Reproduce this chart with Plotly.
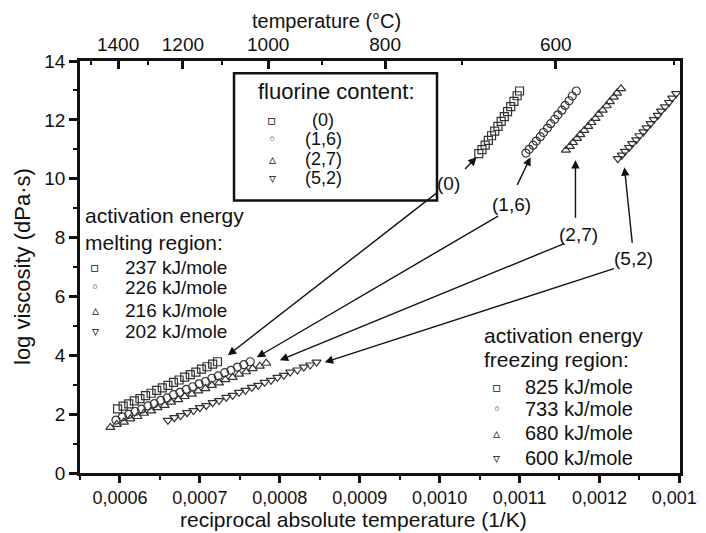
import plotly.graph_objects as go

# ---------------- data ----------------
series_labels = ["(0)", "(1,6)", "(2,7)", "(5,2)"]
series_symbols = ["square-open", "circle-open", "triangle-up-open", "triangle-down-open"]
key_glyphs = ["▫", "◦", "▵", "▿"]
E_melting = ["237 kJ/mole", "226 kJ/mole", "216 kJ/mole", "202 kJ/mole"]
E_freezing = ["825 kJ/mole", "733 kJ/mole", "680 kJ/mole", "600 kJ/mole"]

x_tickvals = [0.0006, 0.0007, 0.0008, 0.0009, 0.0010, 0.0011, 0.0012, 0.0013]
x_ticktext = ["0,0006", "0,0007", "0,0008", "0,0009", "0,0010", "0,0011", "0,0012", "0,0013"]
y_tickvals = [0, 2, 4, 6, 8, 10, 12, 14]
temp_major = [1400, 1200, 1000, 800, 600]
temp_minor = [1500, 1300, 1100, 900, 700, 500]

# melting region (high temperature)
melt_x_0 = [0.000597, 0.000604, 0.000611, 0.000618, 0.000625, 0.000632, 0.000639, 0.000646, 0.000653,
            0.000660, 0.000667, 0.000674, 0.000681, 0.000688, 0.000695, 0.000702, 0.000709, 0.000716, 0.000722]
melt_y_0 = [2.18, 2.27, 2.35, 2.45, 2.53, 2.63, 2.71, 2.81, 2.89, 2.98, 3.08, 3.16, 3.26, 3.34, 3.43,
            3.53, 3.61, 3.70, 3.78]
melt_x_1 = [0.000595, 0.000603, 0.000611, 0.000619, 0.000627, 0.000635, 0.000643, 0.000651, 0.000659,
            0.000667, 0.000675, 0.000683, 0.000691, 0.000699, 0.000707, 0.000715, 0.000723, 0.000731,
            0.000739, 0.000747, 0.000755, 0.000763]
melt_y_1 = [1.80, 1.91, 1.99, 2.09, 2.17, 2.28, 2.36, 2.47, 2.55, 2.66, 2.74, 2.84, 2.93, 3.03, 3.11,
            3.22, 3.30, 3.41, 3.49, 3.60, 3.68, 3.78]
melt_x_2 = [0.000588, 0.000596, 0.000605, 0.000613, 0.000622, 0.000630, 0.000639, 0.000647, 0.000656,
            0.000664, 0.000673, 0.000681, 0.000690, 0.000698, 0.000707, 0.000715, 0.000724, 0.000732,
            0.000741, 0.000749, 0.000758, 0.000766, 0.000775, 0.000783]
melt_y_2 = [1.55, 1.65, 1.73, 1.84, 1.92, 2.03, 2.11, 2.22, 2.30, 2.41, 2.49, 2.60, 2.68, 2.79, 2.87,
            2.98, 3.06, 3.17, 3.25, 3.36, 3.44, 3.55, 3.63, 3.73]
melt_x_3 = [0.000660, 0.000668, 0.000676, 0.000684, 0.000692, 0.000700, 0.000708, 0.000716, 0.000724,
            0.000733, 0.000741, 0.000749, 0.000757, 0.000765, 0.000773, 0.000781, 0.000789, 0.000797,
            0.000805, 0.000813, 0.000822, 0.000830, 0.000838, 0.000846]
melt_y_3 = [1.79, 1.88, 1.95, 2.05, 2.12, 2.22, 2.29, 2.39, 2.46, 2.57, 2.64, 2.74, 2.81, 2.91, 2.98,
            3.08, 3.15, 3.25, 3.32, 3.43, 3.50, 3.60, 3.67, 3.77]

# freezing region (low temperature)
frz_x_0 = [0.001049, 0.001053, 0.001057, 0.001061, 0.001065, 0.001069, 0.001073, 0.001077, 0.001081,
           0.001085, 0.001089, 0.001093, 0.001097, 0.001100]
frz_y_0 = [10.85, 10.99, 11.14, 11.30, 11.46, 11.62, 11.78, 11.95, 12.11, 12.28, 12.45, 12.63, 12.82, 12.98]
frz_x_1 = [0.001108, 0.001112, 0.001117, 0.001121, 0.001126, 0.001130, 0.001135, 0.001139, 0.001144,
           0.001148, 0.001153, 0.001157, 0.001162, 0.001166, 0.001171]
frz_y_1 = [10.87, 11.00, 11.14, 11.28, 11.43, 11.57, 11.72, 11.87, 12.02, 12.17, 12.33, 12.49, 12.65,
           12.81, 12.98]
frz_x_2 = [0.001158, 0.001163, 0.001167, 0.001172, 0.001176, 0.001181, 0.001186, 0.001190, 0.001195,
           0.001199, 0.001204, 0.001209, 0.001213, 0.001218, 0.001222, 0.001227]
frz_y_2 = [10.97, 11.10, 11.23, 11.37, 11.50, 11.64, 11.78, 11.91, 12.05, 12.19, 12.33, 12.48, 12.62,
           12.77, 12.91, 13.06]
frz_x_3 = [0.001223, 0.001228, 0.001232, 0.001237, 0.001241, 0.001246, 0.001250, 0.001255, 0.001259,
           0.001264, 0.001268, 0.001273, 0.001277, 0.001282, 0.001287, 0.001291, 0.001296]
frz_y_3 = [10.68, 10.80, 10.93, 11.06, 11.19, 11.32, 11.46, 11.59, 11.73, 11.87, 12.01, 12.15, 12.30,
           12.44, 12.59, 12.74, 12.89]

melt_x = [melt_x_0, melt_x_1, melt_x_2, melt_x_3]
melt_y = [melt_y_0, melt_y_1, melt_y_2, melt_y_3]
frz_x = [frz_x_0, frz_x_1, frz_x_2, frz_x_3]
frz_y = [frz_y_0, frz_y_1, frz_y_2, frz_y_3]

# ---------------- figure ----------------
FONT = "Liberation Sans, Arial, Helvetica, sans-serif"
INK = "#111111"
XR = [0.00055, 0.0013008]

fig = go.Figure()
for i in range(4):
    for xs, ys in ((melt_x[i], melt_y[i]), (frz_x[i], frz_y[i])):
        fig.add_trace(go.Scatter(
            x=xs, y=ys, mode="markers", name=series_labels[i], showlegend=False,
            marker=dict(symbol=series_symbols[i], size=8, color="#333333",
                        line=dict(width=1.2, color="#333333")),
        ))

# invisible trace to carry the top temperature axis
fig.add_trace(go.Scatter(x=XR, y=[0, 0], xaxis="x2", mode="markers",
                         marker=dict(opacity=0), showlegend=False, hoverinfo="skip"))

# page body has an 8 px margin: figure 698x525 placed at (8, 8)
fig.update_layout(
    width=698, height=525,
    margin=dict(l=72, r=26, t=53, b=60),
    paper_bgcolor="white", plot_bgcolor="white",
    font=dict(family=FONT, color=INK, size=19),
    showlegend=False,
    xaxis=dict(
        range=XR, tickvals=x_tickvals, ticktext=x_ticktext, ticklabeloverflow="allow",
        automargin=False,
        ticks="outside", ticklen=7, tickwidth=2.5, tickcolor=INK,
        showline=True, linewidth=2.5, linecolor=INK, showgrid=False, zeroline=False,
        tickfont=dict(size=18),
        minor=dict(tickvals=[0.00055, 0.00065, 0.00075, 0.00085, 0.00095, 0.00105, 0.00115, 0.00125],
                   ticks="outside", ticklen=4, tickwidth=2, tickcolor=INK),
    ),
    xaxis2=dict(
        overlaying="x", side="top", range=XR, ticklabeloverflow="allow", automargin=False,
        tickvals=[1.0 / (t + 273.15) for t in temp_major],
        ticktext=[str(t) for t in temp_major],
        ticks="inside", ticklen=8, tickwidth=2.5, tickcolor=INK,
        showline=True, linewidth=2.5, linecolor=INK, showgrid=False, zeroline=False,
        tickfont=dict(size=19),
        minor=dict(tickvals=[1.0 / (t + 273.15) for t in temp_minor],
                   ticks="inside", ticklen=4, tickwidth=2, tickcolor=INK),
    ),
    yaxis=dict(
        range=[0, 14], tickvals=y_tickvals, automargin=False,
        ticks="outside", ticklen=8, tickwidth=2.5, tickcolor=INK,
        showline=True, linewidth=2.5, linecolor=INK, mirror=True,
        showgrid=False, zeroline=False, tickfont=dict(size=19),
        minor=dict(dtick=1, ticks="outside", ticklen=4, tickwidth=2, tickcolor=INK),
    ),
)

ann = []
# axis titles
ann.append(dict(text="temperature (°C)", xref="paper", yref="paper", x=0.41, y=1.0 + 40 / 412,
                showarrow=False, font=dict(size=20), xanchor="center", yanchor="middle"))
ann.append(dict(text="reciprocal absolute temperature (1/K)", xref="paper", yref="paper",
                x=0.455, y=-46 / 412, showarrow=False, font=dict(size=21),
                xanchor="center", yanchor="middle"))
ann.append(dict(text="log viscosity (dPa·s)", xref="paper", yref="paper",
                x=-58 / 600, y=0.5, textangle=-90, showarrow=False, font=dict(size=22),
                xanchor="center", yanchor="middle"))

# legend box
fig.add_shape(type="rect", xref="paper", yref="paper", x0=0.2567, x1=0.595, y0=0.6614, y1=0.970,
              line=dict(color=INK, width=2.5), fillcolor="white", layer="above")
ann.append(dict(text="fluorine content:", xref="paper", yref="paper", x=0.4267, y=0.926,
                showarrow=False, font=dict(size=22), xanchor="center", yanchor="middle"))
box_rows = [0.858, 0.810, 0.763, 0.715]
for i in range(4):
    ann.append(dict(text=key_glyphs[i], xref="paper", yref="paper", x=0.32, y=box_rows[i],
                    showarrow=False, font=dict(size=14, family="DejaVu Sans"),
                    xanchor="center", yanchor="middle"))
    ann.append(dict(text=series_labels[i], xref="paper", yref="paper", x=0.405, y=box_rows[i],
                    showarrow=False, font=dict(size=18), xanchor="center", yanchor="middle"))

# melting region block
ann.append(dict(text="activation energy", xref="paper", yref="paper", x=0.005, y=0.625,
                showarrow=False, font=dict(size=21), xanchor="left", yanchor="middle"))
ann.append(dict(text="melting region:", xref="paper", yref="paper", x=0.005, y=0.5595,
                showarrow=False, font=dict(size=21), xanchor="left", yanchor="middle"))
melt_rows = [0.4993, 0.4507, 0.3949, 0.3439]
for i in range(4):
    ann.append(dict(text=key_glyphs[i], xref="paper", yref="paper", x=0.025, y=melt_rows[i],
                    showarrow=False, font=dict(size=14, family="DejaVu Sans"),
                    xanchor="center", yanchor="middle"))
    ann.append(dict(text=E_melting[i], xref="paper", yref="paper", x=0.0717, y=melt_rows[i],
                    showarrow=False, font=dict(size=19), xanchor="left", yanchor="middle"))

# freezing region block
ann.append(dict(text="activation energy", xref="paper", yref="paper", x=0.67, y=0.3342,
                showarrow=False, font=dict(size=21), xanchor="left", yanchor="middle"))
ann.append(dict(text="freezing region:", xref="paper", yref="paper", x=0.67, y=0.276,
                showarrow=False, font=dict(size=21), xanchor="left", yanchor="middle"))
frz_rows = [0.208, 0.1546, 0.0964, 0.0357]
for i in range(4):
    ann.append(dict(text=key_glyphs[i], xref="paper", yref="paper", x=0.695, y=frz_rows[i],
                    showarrow=False, font=dict(size=14, family="DejaVu Sans"),
                    xanchor="center", yanchor="middle"))
    ann.append(dict(text=E_freezing[i], xref="paper", yref="paper", x=0.738, y=frz_rows[i],
                    showarrow=False, font=dict(size=20), xanchor="left", yanchor="middle"))

# series labels with arrows (positions in data coordinates)
label_pos = [(0.00101125, 9.84), (0.00109, 9.13), (0.00117375, 8.11), (0.0012425, 7.29)]
short_tail = [(0.00103, 10.28), (0.00109625, 9.74), (0.00117, 8.62), (0.00124125, 7.77)]
short_head = [(0.00104625, 10.73), (0.00111375, 10.73), (0.00117, 10.63), (0.00123125, 10.39)]
long_tail = [(0.0009975, 9.54), (0.001075, 8.76), (0.00115625, 7.80), (0.00122, 6.96)]
long_head = [(0.000735, 4.0), (0.00077125, 3.93), (0.0008, 3.83), (0.00085625, 3.76)]
for i in range(4):
    ann.append(dict(text=series_labels[i], x=label_pos[i][0], y=label_pos[i][1], xref="x", yref="y",
                    showarrow=False, font=dict(size=19), xanchor="center", yanchor="middle"))
    for tail, head in ((short_tail[i], short_head[i]), (long_tail[i], long_head[i])):
        ann.append(dict(text="", x=head[0], y=head[1], xref="x", yref="y",
                        ax=tail[0], ay=tail[1], axref="x", ayref="y",
                        showarrow=True, arrowhead=2, arrowsize=1.2, arrowwidth=1.4,
                        arrowcolor=INK, standoff=0, startstandoff=0))

fig.update_layout(annotations=ann)
fig.write_html("out.html")
